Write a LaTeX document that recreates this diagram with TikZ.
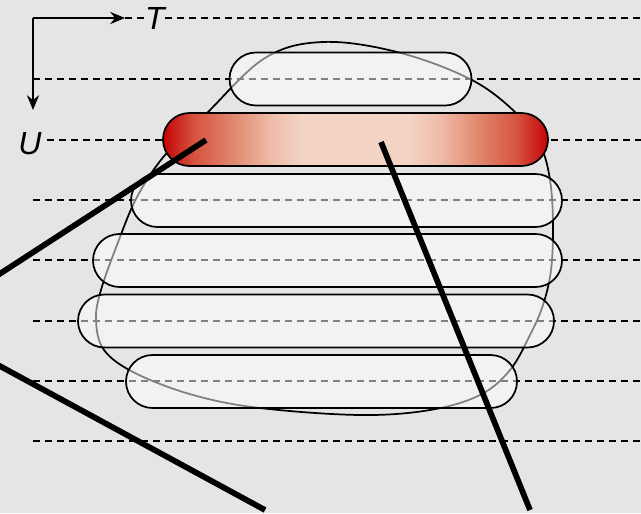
\documentclass[tikz,border=0pt]{standalone}
\usepackage{fontspec}
\setsansfont{Liberation Sans}
\usetikzlibrary{arrows.meta}
\definecolor{bgc}{RGB}{229,229,229}
\definecolor{rA}{RGB}{198,4,6}
\definecolor{rB}{RGB}{214,82,62}
\definecolor{rC}{RGB}{226,135,110}
\definecolor{rD}{RGB}{238,188,168}
\definecolor{rE}{RGB}{243,211,196}
\pgfdeclarehorizontalshading{redbar}{100bp}{color(0bp)=(rA); color(25bp)=(rA); color(29bp)=(rB); color(34bp)=(rC); color(39bp)=(rD); color(43bp)=(rE); color(57bp)=(rE); color(61bp)=(rD); color(66bp)=(rC); color(71bp)=(rB); color(75bp)=(rA); color(100bp)=(rA)}
\tikzset{
  guide/.style={dashed, dash pattern=on 5.25pt off 3.75pt, line width=1.3pt},
  bar/.style={draw=black, line width=1.3pt, fill=white, fill opacity=0.5, draw opacity=1, rectangle, rounded corners=19.875pt, minimum height=39.75pt, inner sep=0pt},
  redbarstyle/.style={draw=black, line width=1.3pt, shading=redbar, rectangle, rounded corners=19.875pt, minimum height=39.75pt, inner sep=0pt},
  blob/.style={draw=black, line width=1.3pt},
  thick line/.style={line width=4.3pt},
  axis/.style={line width=2.2pt, -{Stealth[length=11pt,width=9pt]}},
  lab/.style={font=\sffamily\itshape\fontsize{24}{28}\selectfont, inner sep=0pt}
}
\begin{document}
\begin{tikzpicture}[x=0.75pt,y=-0.75pt]
\fill[bgc] (0,0) rectangle (641,513);
\useasboundingbox (0,0) rectangle (641,513);
% axes and labels
\coordinate (O) at (33,18);
\node[lab] (T) at (155,18) {T};
\node[lab] (U) at (30,144) {U};
\coordinate (Tend) at (125,18);
\coordinate (Uend) at (33,110);
\coordinate (Ustart) at (47,140);
% guide lines
\draw[guide] (Tend) -- (T.west);
\draw[guide] (T.east) -- (641,18);
\draw[guide] (33,79) -- (641,79);
\draw[guide] (Ustart) -- (641,140);
\foreach \yy in {200,260,321,381,441} \draw[guide] (33,\yy) -- (641,\yy);
% blob
\draw[blob] plot[smooth cycle, tension=0.6] coordinates {(323,42) (397,52) (470,79) (515,112) (540,145) (550,180) (553,225) (551,270) (543,305) (530,335) (510,370) (480,395) (430,410) (360,415) (260,408) (193,395) (135,373) (104,350) (96,320) (101,290) (117,245) (137,197) (165,155) (207,113) (265,58)};
% bars
\node[bar, minimum width=181.5pt] (b1) at (350.5,79) {};
\node[redbarstyle, minimum width=288.75pt] (b2) at (355.5,139.5) {};
\node[bar, minimum width=323.25pt] (b3) at (346.5,200.5) {};
\node[bar, minimum width=351.75pt] (b4) at (327.5,260.5) {};
\node[bar, minimum width=357pt] (b5) at (316,321) {};
\node[bar, minimum width=293.25pt] (b6) at (321.5,381.5) {};
% thick lines
\coordinate (p1) at (206,140);
\coordinate (q1) at (-2,275);
\coordinate (p2) at (-2,365);
\coordinate (q2) at (265,510);
\coordinate (p3) at (381,142);
\coordinate (q3) at (530,510);
\draw[thick line] (p1) -- (q1);
\draw[thick line] (p2) -- (q2);
\draw[thick line] (p3) -- (q3);
% axes
\draw[axis] (O) -- (Tend);
\draw[axis] (O) -- (Uend);
\end{tikzpicture}
\end{document}
